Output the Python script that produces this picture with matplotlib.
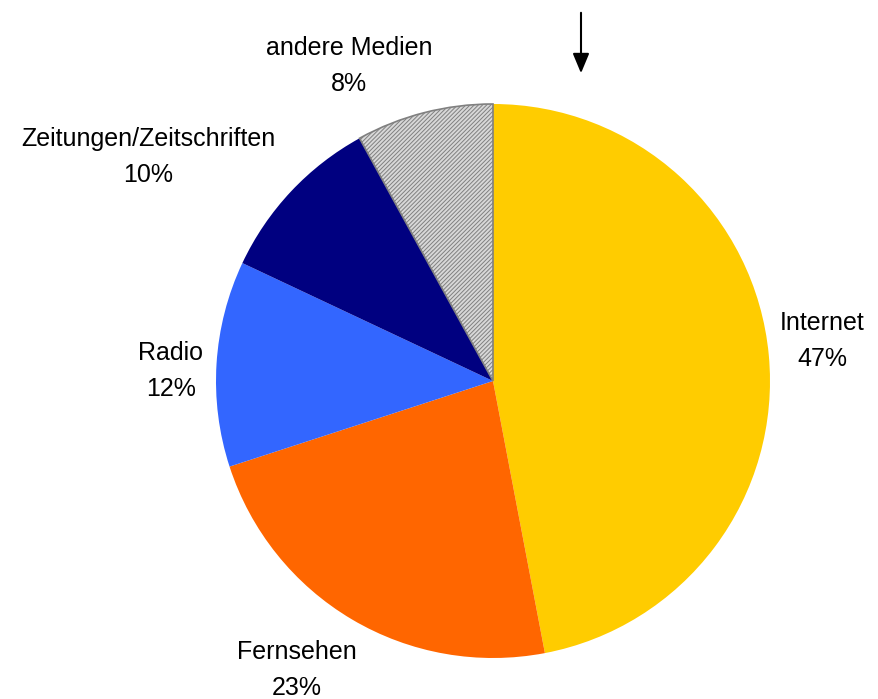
import matplotlib
matplotlib.use('Agg')
import matplotlib.pyplot as plt

plt.rcParams['font.family'] = ['Liberation Sans', 'DejaVu Sans']
plt.rcParams['hatch.linewidth'] = 0.7

labels = ['Internet', 'Fernsehen', 'Radio', 'Zeitungen/Zeitschriften', 'andere Medien']
shares = [47, 23, 12, 10, 8]
colors = ['#ffcc00', '#ff6600', '#3366ff', '#000080', '#d8d8d8']

# label anchor points, in pixels from the top-left corner
label_pos = [(822, 341), (297, 670), (171, 371), (148, 157), (349, 66)]

W, H = 879, 699
fig = plt.figure(figsize=(W / 100, H / 100), dpi=100)
ax = fig.add_axes([0, 0, 1, 1])

wedges, _ = ax.pie(shares, colors=colors, startangle=90, counterclock=False,
                   center=(493, H - 381), radius=277,
                   wedgeprops={'linewidth': 0})
wedges[-1].set_hatch('////////')
wedges[-1].set_edgecolor('#808080')
wedges[-1].set_linewidth(1.2)

for name, val, (x, y) in zip(labels, shares, label_pos):
    ax.text(x, H - y, f'{name}\n{val}%', ha='center', va='center',
            fontsize=18, linespacing=1.6)

# pointer arrow above the chart
ax.annotate('', xy=(581, H - 76), xytext=(581, H - 10),
            arrowprops=dict(arrowstyle='-|>,head_length=0.6,head_width=0.25',
                            color='black', lw=1.5, mutation_scale=20))

ax.set_xlim(0, W)
ax.set_ylim(0, H)
ax.set_aspect('equal')
ax.axis('off')

fig.savefig('out.png', dpi=100)
